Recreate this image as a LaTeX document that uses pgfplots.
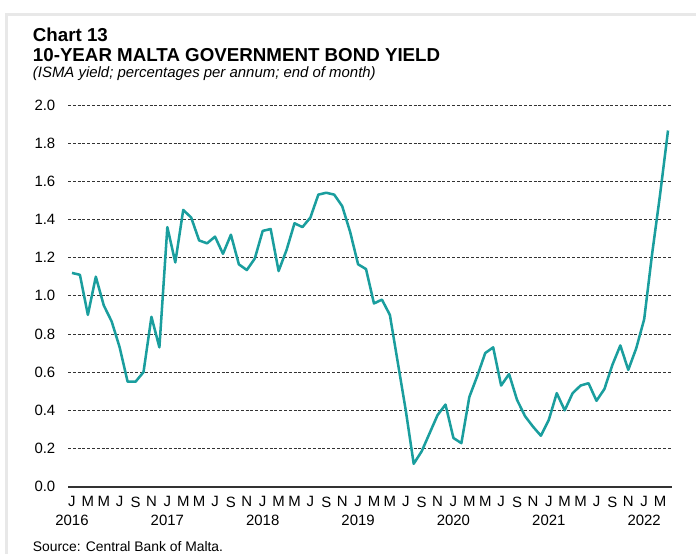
\documentclass[border=0pt]{standalone}
\usepackage{pgfplots}
\pgfplotsset{compat=1.18}
\usepackage{fontspec}
\setmainfont{Liberation Sans}
\definecolor{teal1}{RGB}{26,158,158}
\definecolor{frame}{RGB}{232,232,232}
\pgfplotstableread{
m y
0 1.12
1 1.11
2 0.90
3 1.10
4 0.95
5 0.865
6 0.73
7 0.55
8 0.55
9 0.60
10 0.89
11 0.73
12 1.36
13 1.175
14 1.45
15 1.41
16 1.29
17 1.275
18 1.31
19 1.22
20 1.32
21 1.165
22 1.135
23 1.195
24 1.34
25 1.35
26 1.13
27 1.24
28 1.38
29 1.36
30 1.41
31 1.53
32 1.54
33 1.53
34 1.47
35 1.335
36 1.165
37 1.14
38 0.96
39 0.98
40 0.90
41 0.65
42 0.40
43 0.12
44 0.185
45 0.28
46 0.375
47 0.43
48 0.255
49 0.228
50 0.47
51 0.58
52 0.70
53 0.73
54 0.53
55 0.59
56 0.455
57 0.37
58 0.315
59 0.267
60 0.35
61 0.49
62 0.40
63 0.49
64 0.53
65 0.542
66 0.45
67 0.512
68 0.638
69 0.74
70 0.612
71 0.725
72 0.877
73 1.22
74 1.53
75 1.866
}\datatable
\begin{document}
\begin{tikzpicture}
\path[use as bounding box] (0,0) rectangle (522pt,-415.5pt);
\fill[frame] (4pt,-10pt) rectangle (522pt,-12pt);
\fill[frame] (4pt,-10pt) rectangle (6pt,-415.5pt);
\node[anchor=west,inner sep=0pt,font=\fontsize{14.05}{15}\selectfont\bfseries] at (24.5pt,-26.2pt) {Chart 13};
\node[anchor=west,inner sep=0pt,font=\fontsize{14.05}{15}\selectfont\bfseries] at (24.5pt,-41.2pt) {10-YEAR MALTA GOVERNMENT BOND YIELD};
\node[anchor=west,inner sep=0pt,font=\fontsize{11.2}{12}\selectfont\itshape] at (24.5pt,-55.5pt) {(ISMA yield; percentages per annum; end of month)};
\node[anchor=west,inner sep=0pt,font=\fontsize{10.4}{12}\selectfont] at (24.5pt,-409.6pt) {Source: Central Bank of Malta.};
\begin{axis}[
  at={(51pt,-365pt)}, anchor=south west,
  scale only axis, width=453pt, height=286.3pt,
  xmin=-0.5, xmax=75.5, ymin=0, ymax=2.0,
  axis lines=left,
  x axis line style={-, draw=black!80, line width=1.4pt},
  y axis line style={draw=none},
  major tick length=0pt,
  xtick={0,2,...,74},
  xticklabels={J,M,M,J,S,N,J,M,M,J,S,N,J,M,M,J,S,N,J,M,M,J,S,N,J,M,M,J,S,N,J,M,M,J,S,N,J,M},
  ytick={0,0.2,...,2.01},
  ymajorgrids,
  grid style={black!80, line width=0.6pt, dash pattern=on 2.2pt off 1.4pt},
  yticklabel style={/pgf/number format/fixed, /pgf/number format/fixed zerofill, /pgf/number format/precision=1},
  /pgf/number format/assume math mode=true,
  ticklabel style={font=\fontsize{11.2}{12}\selectfont},
  xticklabel style={yshift=-4pt},
  yticklabel style={xshift=-6pt},
  clip=false,
]
\addplot[teal1, line width=1.9pt, line join=round] table[x=m,y=y]{\datatable};
\foreach \yr/\xx in {2016/0,2017/12,2018/24,2019/36,2020/48,2021/60,2022/72}{
  \edef\tmp{\noexpand\node[font=\noexpand\fontsize{11.2}{12}\noexpand\selectfont] at (axis cs:\xx,0) [yshift=-25.5pt] {\yr};}
  \tmp
}
\end{axis}
\end{tikzpicture}
\end{document}
